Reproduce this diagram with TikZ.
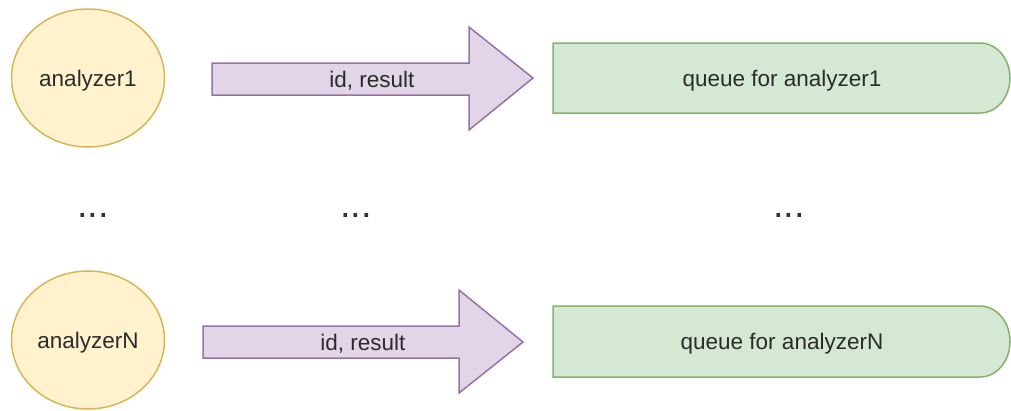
\documentclass[tikz,border=0pt]{standalone}
\usepackage{fontspec}
\setmainfont{Liberation Sans}
\usetikzlibrary{shapes.geometric}
\definecolor{yfill}{HTML}{FFF2CC}
\definecolor{ydraw}{HTML}{D6B656}
\definecolor{pfill}{HTML}{E1D5E7}
\definecolor{pdraw}{HTML}{9673A6}
\definecolor{gfill}{HTML}{D5E8D4}
\definecolor{gdraw}{HTML}{82B366}
\definecolor{txt}{HTML}{2B2B2B}
\tikzset{
  lbl/.style={font=\fontsize{22.5}{27}\selectfont, text=txt, inner sep=0pt,
    text height=16pt, text depth=4pt},
  analyzer/.style={ellipse, draw=ydraw, fill=yfill, line width=1.5pt,
    minimum width=153pt, minimum height=138pt},
  flow/.style={draw=pdraw, fill=pfill, line width=1.5pt, line join=miter},
  queuebox/.style={draw=gdraw, fill=gfill, line width=1.5pt},
  more/.style={font=\fontsize{38}{40}\selectfont, text=black!80, inner sep=0pt}
}
\begin{document}
\begin{tikzpicture}[x=1pt, y=-1pt]
\useasboundingbox (0,0) rectangle (1011,410);

% analyzers
\node[analyzer] (a1) at (88,78) {};
\node[lbl] (a1t) at (88,80) {analyzer1};
\node[analyzer] (aN) at (88,340) {};
\node[lbl] (aNt) at (88,342) {analyzerN};

% block arrows carrying the results
\draw[flow] (212,63) -- (469,63) -- (469,27) -- (533,78) -- (469,130)
  -- (469,95) -- (212,95) -- cycle;
\node[lbl] (f1) at (372,81) {id, result};
\draw[flow] (203,326) -- (459,326) -- (459,290) -- (523,342) -- (459,393)
  -- (459,358) -- (203,358) -- cycle;
\node[lbl] (fN) at (363,344) {id, result};

% queues, flat on the left and rounded on the right
\draw[queuebox] (553,43) -- (980,43)
  arc[start angle=-90, end angle=90, x radius=30, y radius=35]
  -- (553,113) -- cycle;
\node[lbl] (q1) at (782,80) {queue for analyzer1};
\draw[queuebox] (553,306) -- (980,306)
  arc[start angle=-90, end angle=90, x radius=30, y radius=35.5]
  -- (553,377) -- cycle;
\node[lbl] (qN) at (782,343) {queue for analyzerN};

% elided rows
\node[more, anchor=base] (d1) at (93,217) {...};
\node[more, anchor=base] (d2) at (356,217) {...};
\node[more, anchor=base] (d3) at (789,217) {...};
\end{tikzpicture}
\end{document}
